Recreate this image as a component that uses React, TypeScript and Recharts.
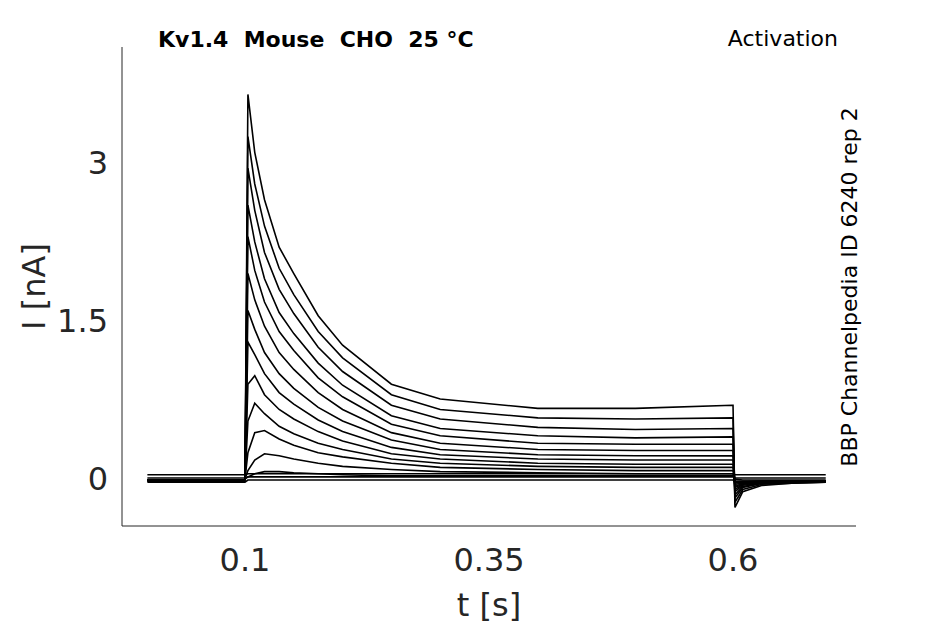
import { Line, LineChart, XAxis, YAxis, Label } from "recharts";

// sample times [s]
const times = [0, 0.05, 0.0995, 0.1, 0.103, 0.11, 0.12, 0.135, 0.15, 0.175, 0.2, 0.25, 0.3, 0.4, 0.5, 0.5995, 0.6, 0.602, 0.61, 0.63, 0.66, 0.695];

// current traces [nA], one per voltage step
const traces: number[][] = [
  [-0.02, -0.02, -0.02, 0, 3.65, 3.1, 2.65, 2.2, 1.95, 1.55, 1.27, 0.9, 0.76, 0.67, 0.67, 0.7, 0.7, -0.27, -0.12, -0.06, -0.04, -0.03],
  [-0.02, -0.02, -0.02, 0, 3.25, 2.8, 2.4, 2.0, 1.75, 1.4, 1.15, 0.8, 0.66, 0.58, 0.57, 0.58, 0.58, -0.22, -0.1, -0.05, -0.04, -0.03],
  [-0.01, -0.01, -0.01, 0, 2.95, 2.55, 2.15, 1.8, 1.57, 1.25, 1.02, 0.7, 0.57, 0.49, 0.47, 0.48, 0.48, -0.18, -0.08, -0.04, -0.03, -0.02],
  [-0.01, -0.01, -0.01, 0, 2.6, 2.25, 1.9, 1.58, 1.38, 1.1, 0.89, 0.6, 0.48, 0.41, 0.39, 0.4, 0.4, -0.15, -0.07, -0.04, -0.03, -0.02],
  [-0.01, -0.01, -0.01, 0, 2.3, 1.98, 1.68, 1.4, 1.22, 0.96, 0.78, 0.52, 0.41, 0.34, 0.33, 0.33, 0.33, -0.12, -0.06, -0.04, -0.03, -0.02],
  [-0.01, -0.01, -0.01, 0, 1.95, 1.7, 1.45, 1.2, 1.04, 0.82, 0.66, 0.44, 0.34, 0.28, 0.27, 0.27, 0.27, -0.1, -0.05, -0.03, -0.02, -0.02],
  [-0.01, -0.01, -0.01, 0, 1.6, 1.42, 1.2, 1.0, 0.86, 0.68, 0.55, 0.37, 0.28, 0.23, 0.22, 0.22, 0.22, -0.08, -0.05, -0.03, -0.02, -0.02],
  [-0.01, -0.01, -0.01, 0, 1.3, 1.18, 1.0, 0.82, 0.71, 0.56, 0.45, 0.3, 0.23, 0.19, 0.18, 0.18, 0.18, -0.07, -0.04, -0.03, -0.02, -0.02],
  [-0.01, -0.01, -0.01, 0, 0.9, 0.98, 0.8, 0.66, 0.57, 0.45, 0.36, 0.24, 0.19, 0.15, 0.14, 0.14, 0.14, -0.05, -0.04, -0.03, -0.02, -0.02],
  [-0.01, -0.01, -0.01, 0, 0.55, 0.72, 0.62, 0.5, 0.43, 0.34, 0.28, 0.19, 0.15, 0.12, 0.11, 0.11, 0.11, -0.04, -0.03, -0.02, -0.02, -0.02],
  [-0.01, -0.01, -0.01, 0, 0.25, 0.44, 0.46, 0.38, 0.32, 0.25, 0.21, 0.15, 0.11, 0.09, 0.08, 0.08, 0.08, -0.03, -0.03, -0.02, -0.02, -0.02],
  [-0.01, -0.01, -0.01, 0, 0.08, 0.18, 0.24, 0.22, 0.19, 0.15, 0.12, 0.09, 0.07, 0.06, 0.05, 0.05, 0.05, -0.02, -0.02, -0.02, -0.02, -0.02],
  [-0.01, -0.01, -0.01, 0, 0.02, 0.05, 0.07, 0.07, 0.06, 0.05, 0.04, 0.03, 0.03, 0.03, 0.03, 0.03, 0.03, 0.0, -0.01, -0.01, -0.01, -0.01],
  [0.04, 0.04, 0.04, 0.04, 0.05, 0.05, 0.05, 0.05, 0.05, 0.05, 0.05, 0.05, 0.05, 0.05, 0.05, 0.05, 0.05, 0.04, 0.04, 0.04, 0.04, 0.04],
  [0.01, 0.01, 0.01, 0.01, 0.02, 0.02, 0.02, 0.02, 0.02, 0.02, 0.02, 0.02, 0.02, 0.02, 0.02, 0.02, 0.02, 0.01, 0.01, 0.01, 0.01, 0.01],
  [-0.03, -0.03, -0.03, -0.03, -0.01, -0.01, -0.01, -0.01, -0.01, -0.01, -0.01, -0.01, -0.01, -0.01, -0.01, -0.01, -0.01, -0.03, -0.03, -0.03, -0.03, -0.03],
];

const xTicks = [0.1, 0.35, 0.6];
const yTicks = [0, 1.5, 3];

const rows = times.map((t, i) => {
  const r: Record<string, number> = { t };
  traces.forEach((tr, k) => (r["s" + k] = tr[i]));
  return r;
});

const font = "DejaVu Sans, sans-serif";
const axisColor = "#262626";

export default function App() {
  return (
    <div style={{ position: "absolute", left: 0, top: 0, fontFamily: font }}>
      <LineChart width={945} height={624} data={rows} margin={{ top: 47, right: 89, bottom: 18, left: 42 }}>
        <XAxis
          dataKey="t"
          type="number"
          domain={[-0.026, 0.726]}
          ticks={xTicks}
          allowDataOverflow
          height={80}
          stroke={axisColor}
          tickSize={0}
          tickMargin={22}
          tickFormatter={(v: number) => String(v)}
          tick={{ fontSize: 32, fill: axisColor, fontFamily: font }}
        >
          <Label value="t [s]" position="insideBottom" offset={-10} style={{ fontSize: 32, fill: axisColor, fontFamily: font }} />
        </XAxis>
        <YAxis
          type="number"
          domain={[-0.446, 4.1]}
          ticks={yTicks}
          allowDataOverflow
          width={80}
          stroke={axisColor}
          tickSize={0}
          tickMargin={14}
          tick={{ fontSize: 32, fill: axisColor, fontFamily: font }}
        >
          <Label value="I [nA]" angle={-90} position="insideLeft" offset={-8} style={{ fontSize: 32, fill: axisColor, fontFamily: font, textAnchor: "middle" }} />
        </YAxis>
        {traces.map((_, k) => (
          <Line key={k} dataKey={"s" + k} type="linear" stroke="#000" strokeWidth={1.6} dot={false} isAnimationActive={false} />
        ))}
        <text x={158} y={47} fontSize={22} fontWeight="bold" fontFamily={font} fill="#000">{"Kv1.4\u00a0\u00a0Mouse\u00a0\u00a0CHO\u00a0\u00a025 °C"}</text>
        <text x={838} y={46} fontSize={22} textAnchor="end" fontFamily={font} fill="#000">Activation</text>
        <text x={857} y={287} fontSize={22} textAnchor="middle" fontFamily={font} fill="#000" transform="rotate(-90 857 287)">BBP Channelpedia ID 6240 rep 2</text>
      </LineChart>
    </div>
  );
}
